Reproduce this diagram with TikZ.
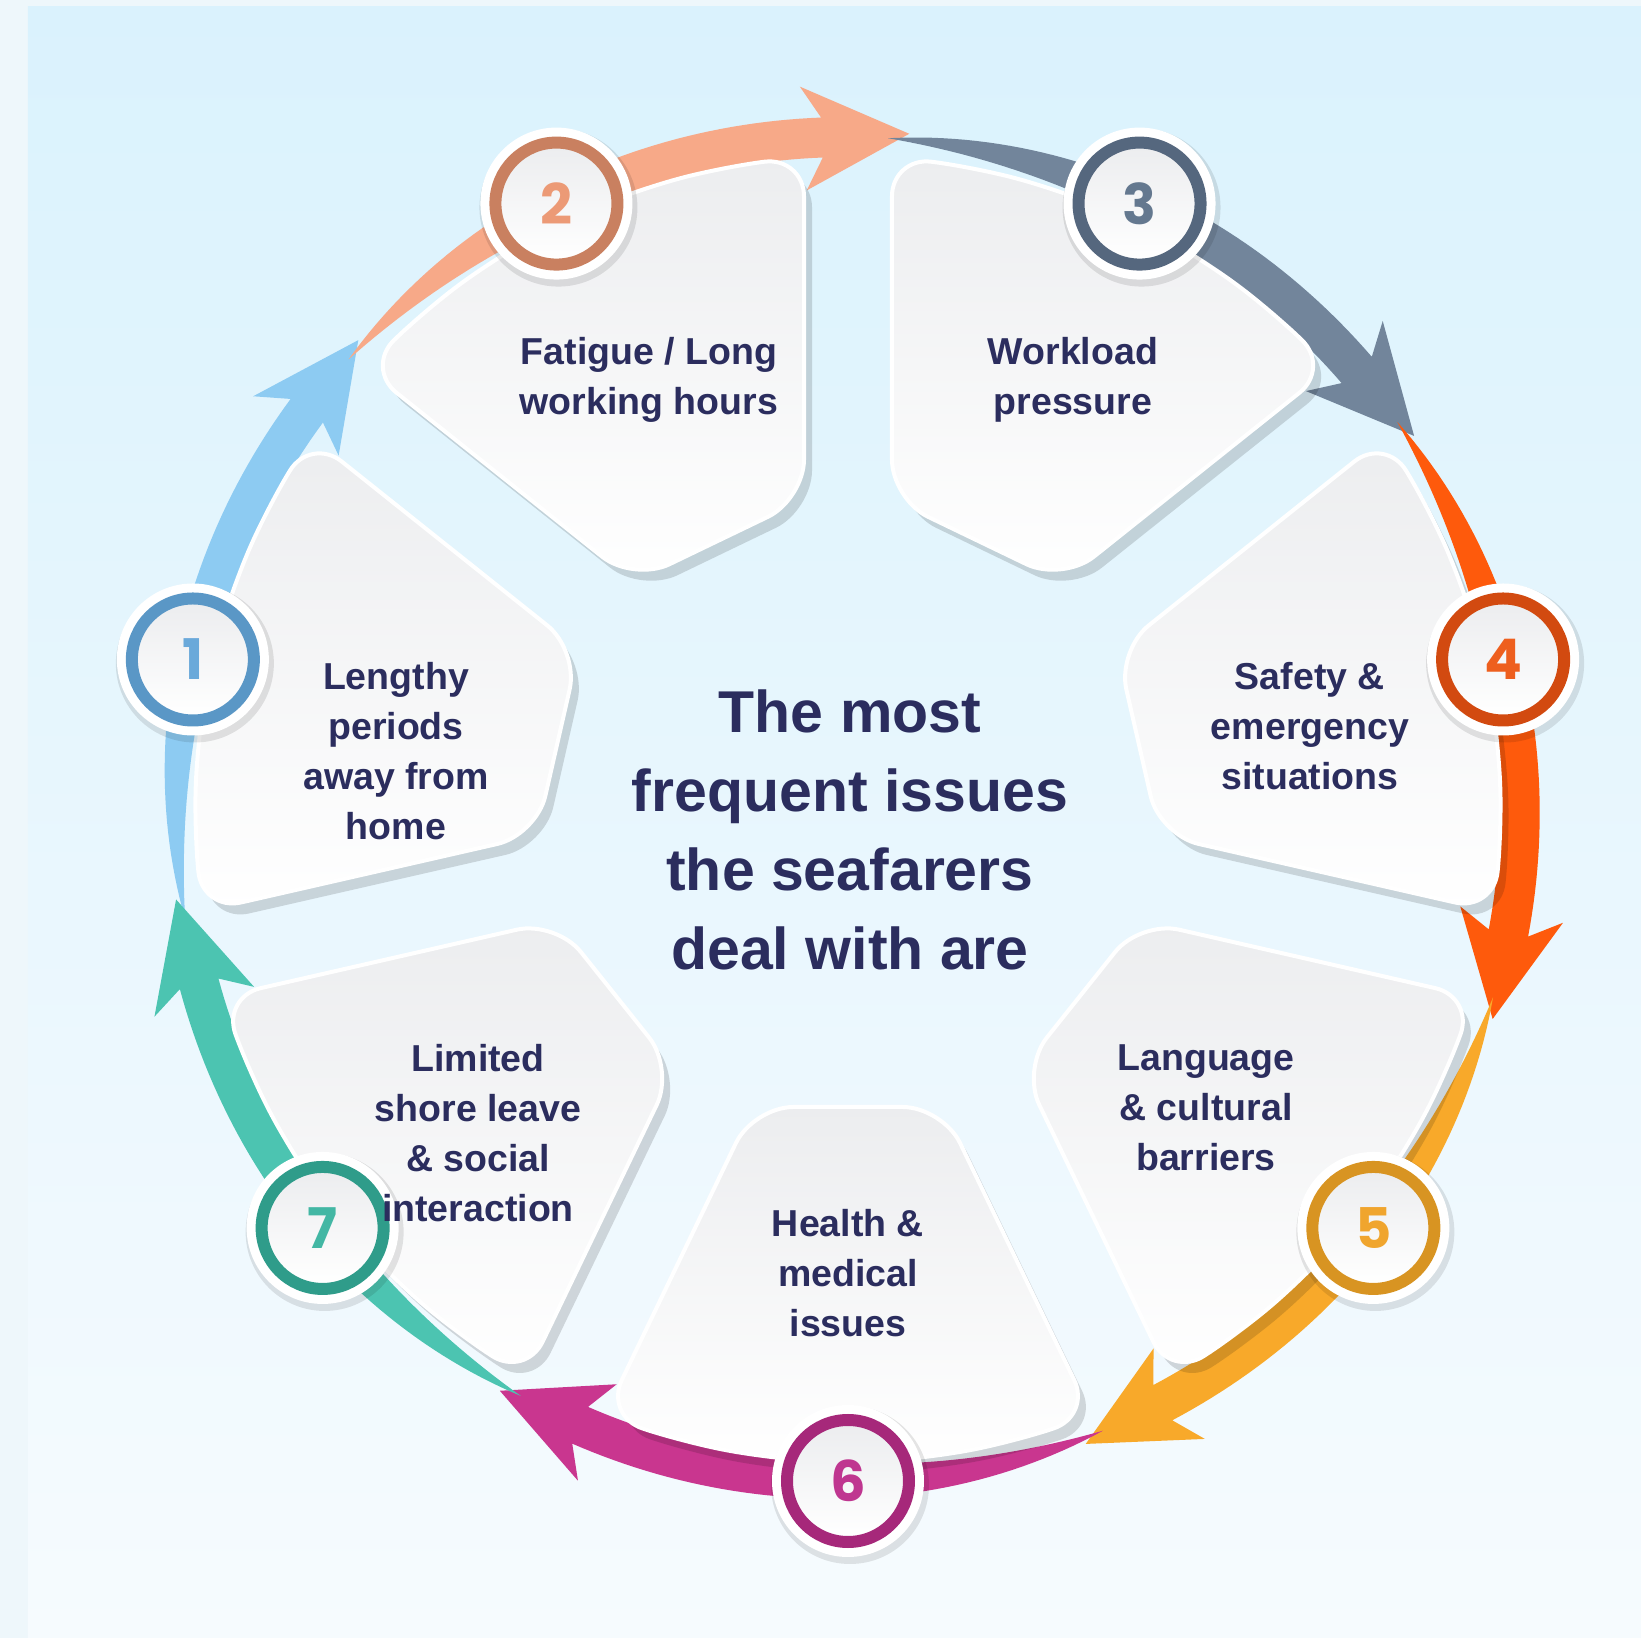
\documentclass[tikz,border=0pt]{standalone}
\usepackage{fontspec}
\setmainfont{Liberation Sans}
\newfontfamily\numfont{Poppins}
\usetikzlibrary{calc}

\definecolor{outerbg}{HTML}{EEF7FB}
\definecolor{bgtop}{HTML}{DAF2FD}
\definecolor{bgbot}{HTML}{F6FBFE}
\definecolor{navy}{HTML}{2B2D5E}
\definecolor{cardtop}{HTML}{ECEDEF}
\definecolor{a1}{HTML}{8DCBF2}\definecolor{r1}{HTML}{5A97C6}\definecolor{d1}{HTML}{6AA9DA}
\definecolor{a2}{HTML}{F7A988}\definecolor{r2}{HTML}{C98060}\definecolor{d2}{HTML}{EC9A76}
\definecolor{a3}{HTML}{72859B}\definecolor{r3}{HTML}{55677E}\definecolor{d3}{HTML}{64788F}
\definecolor{a4}{HTML}{FE5A0C}\definecolor{r4}{HTML}{D24A10}\definecolor{d4}{HTML}{EE5F1E}
\definecolor{a5}{HTML}{F8A92A}\definecolor{r5}{HTML}{D89422}\definecolor{d5}{HTML}{F0A52E}
\definecolor{a6}{HTML}{C9368F}\definecolor{r6}{HTML}{A6287A}\definecolor{d6}{HTML}{BF3690}
\definecolor{a7}{HTML}{4CC4B1}\definecolor{r7}{HTML}{2F9C8A}\definecolor{d7}{HTML}{43B7A4}

% tapered ring arrow through the badge at angle #1
\newcommand{\ringarrow}[2]{%
  \pgfmathsetmacro{\ta}{#1+22.3}%
  \pgfmathsetmacro{\tb}{#1-23.5}%
  \fill[#2] plot[variable=\t,domain=0:1,samples=50] ({\ta-45.8*\t}:{672+20*(1-(1-\t)^3)})
    -- ({\tb+1.6}:{724}) -- ({\tb-7.4}:{678}) -- ({\tb+1.6}:{620})
    -- plot[variable=\t,domain=1:0,samples=50] ({\ta-45.8*\t}:{672-20*(1-(1-\t)^3)}) -- cycle;
}

% one issue card, drawn in its own radial frame with a cast shadow
\newcommand{\issuecard}[1]{%
  \fill[black, opacity=.14, rounded corners=40, shift={(8,-11)}, rotate=#1]
    (298,94.7) -- (21.86:654) -- (14.57:654) -- (7.29:654) -- (0:654)
    -- (-7.29:654) -- (-14.57:654) -- (-21.86:654) -- (298,-94.7) -- cycle;
  \shade[top color=cardtop, bottom color=white, draw=white, line width=4,
    rounded corners=40, rotate=#1]
    (298,94.7) -- (21.86:654) -- (14.57:654) -- (7.29:654) -- (0:654)
    -- (-7.29:654) -- (-14.57:654) -- (-21.86:654) -- (298,-94.7) -- cycle;
}

\tikzset{
  cardtext/.style={align=center, text=navy,
    font=\bfseries\fontsize{37.5}{50}\selectfont},
  titletext/.style={align=center, text=navy,
    font=\bfseries\fontsize{59}{79}\selectfont},
  digit/.style={font=\numfont\bfseries\fontsize{56}{56}\selectfont, inner sep=0pt}
}

\begin{document}
\begin{tikzpicture}[x=1pt,y=1pt]
\useasboundingbox (-848,-829) rectangle (793,809);
\fill[outerbg] (-848,-829) rectangle (793,809);
\shade[top color=bgtop, bottom color=bgbot] (-820,-829) rectangle (793,802);

% arrows round the ring
\foreach \k/\col in {1/a1,2/a2,3/a3,4/a4,5/a5,6/a6,7/a7}{
  \pgfmathsetmacro{\ang}{167.143-51.4286*(\k-1)}
  \ringarrow{\ang}{\col}
}

% cards
\foreach \k in {1,...,7}{
  \pgfmathsetmacro{\ang}{167.143-51.4286*(\k-1)}
  \issuecard{\ang}
}

% numbered badges
\foreach \k/\rc/\dc in {1/r1/d1,2/r2/d2,3/r3/d3,4/r4/d4,5/r5/d5,6/r6/d6,7/r7/d7}{
  \pgfmathsetmacro{\ang}{167.143-51.4286*(\k-1)}
  \fill[black, opacity=.10] ($(\ang:672)+(2,-4)$) circle (79);
  \fill[white] (\ang:672) circle (76);
  \shade[top color=cardtop, bottom color=white] (\ang:672) circle (56);
  \draw[\rc, line width=12] (\ang:672) circle (61);
  \node[digit, text=\dc] (b\k) at (\ang:672) {\k};
}

% texts
\node[cardtext] (t1) at (-452,58) {Lengthy\\periods\\away from\\home};
\node[cardtext] (t2) at (-199,429) {Fatigue / Long\\working hours};
\node[cardtext] (t3) at (225,429) {Workload\\pressure};
\node[cardtext] (t4) at (462,83) {Safety \&\\emergency\\situations};
\node[cardtext] (t5) at (358,-299) {Language\\\& cultural\\barriers};
\node[cardtext] (t6) at (0,-464) {Health \&\\medical\\issues};
\node[cardtext] (t7) at (-370,-324) {Limited\\shore leave\\\& social\\interaction};
\node[titletext] (title) at (2,-21) {The most\\frequent issues\\the seafarers\\deal with are};
\end{tikzpicture}
\end{document}
